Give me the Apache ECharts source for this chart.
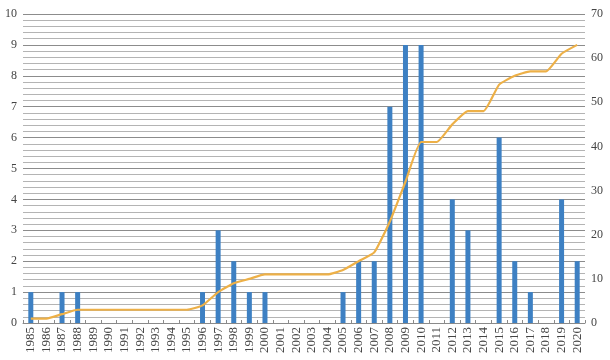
<!DOCTYPE html>
<html><head><meta charset="utf-8">
<script src="https://cdn.jsdelivr.net/npm/echarts@6/dist/echarts.min.js"></script>
<style>html,body{margin:0;padding:0;background:#fff}#c{width:610px;height:360px}</style>
</head><body><div id="c"></div>
<script>
var years = ['1985','1986','1987','1988','1989','1990','1991','1992','1993','1994','1995','1996','1997','1998','1999','2000','2001','2002','2003','2004','2005','2006','2007','2008','2009','2010','2011','2012','2013','2014','2015','2016','2017','2018','2019','2020'];
var annual = [1,0,1,1,0,0,0,0,0,0,0,1,3,2,1,1,0,0,0,0,1,2,2,7,9,9,0,4,3,0,6,2,1,0,4,2];
var cumulative = [1,1,2,3,3,3,3,3,3,3,3,4,7,9,10,11,11,11,11,11,12,14,16,23,32,41,41,45,48,48,54,56,57,57,61,63];
var leftTicks = [0,10,1];
var rightTicks = [0,70,10];

var chart = echarts.init(document.getElementById('c'));
var font = '"Liberation Serif", "DejaVu Serif", serif';
chart.setOption({
  animation: false,
  grid: {left: 23, right: 25, top: 14, bottom: 37},
  xAxis: {
    type: 'category', data: years, boundaryGap: true,
    axisLine: {lineStyle: {color: '#8a8a8a', width: 1}},
    axisTick: {show: true, inside: true, length: 3, lineStyle: {color: '#8a8a8a'}},
    axisLabel: {rotate: 90, interval: 0, fontFamily: font, fontSize: 13, color: '#444', margin: 4}
  },
  yAxis: [{
    type: 'value', min: leftTicks[0], max: leftTicks[1], interval: leftTicks[2],
    axisLine: {show: false}, axisTick: {show: false},
    axisLabel: {fontFamily: font, fontSize: 12, color: '#444', margin: 6},
    splitLine: {show: true, lineStyle: {color: '#8c8c8c', width: 1}},
    minorTick: {show: false, splitNumber: 5},
    minorSplitLine: {show: true, lineStyle: {color: '#b4b4b4', width: 1}}
  }, {
    type: 'value', min: rightTicks[0], max: rightTicks[1], interval: rightTicks[2],
    axisLine: {show: false}, axisTick: {show: false},
    axisLabel: {fontFamily: font, fontSize: 12, color: '#444', margin: 6},
    splitLine: {show: false}
  }],
  series: [{
    type: 'bar', data: annual, yAxisIndex: 0, barWidth: 5,
    itemStyle: {color: '#3d80c3'}
  }, {
    type: 'line', data: cumulative, yAxisIndex: 1, smooth: 0.15, showSymbol: false,
    lineStyle: {color: '#edb047', width: 2.2}
  }]
});
</script></body></html>
